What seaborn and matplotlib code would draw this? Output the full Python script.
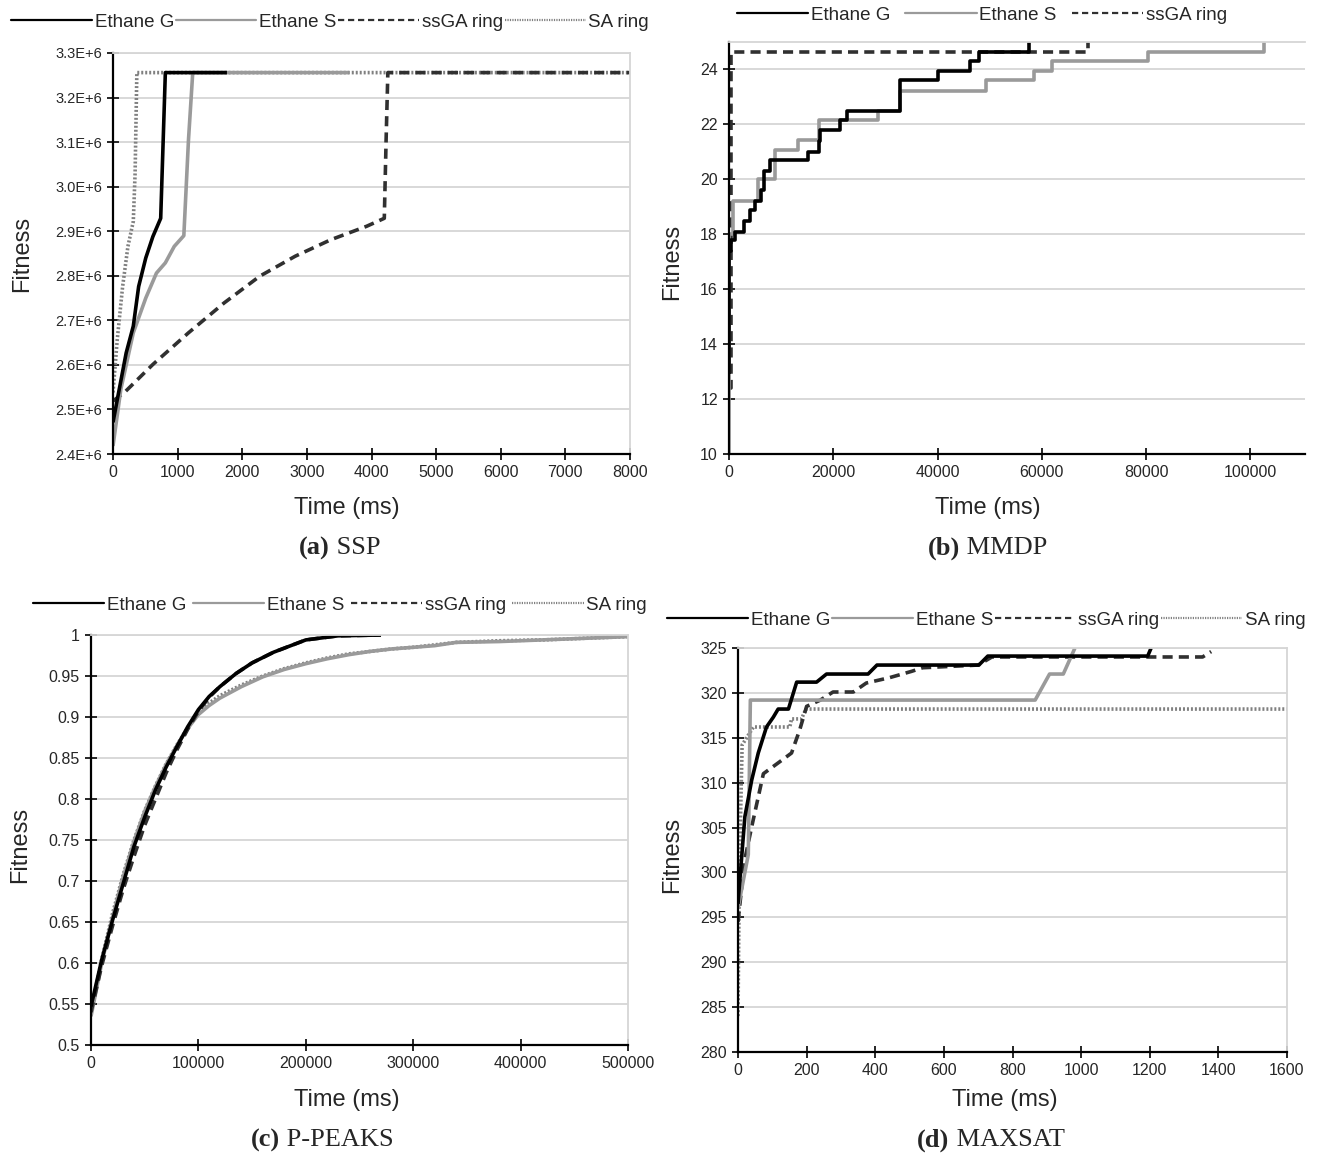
import matplotlib
matplotlib.use("Agg")
import matplotlib.pyplot as plt
from matplotlib.lines import Line2D
import seaborn as sns

sns.set_style("ticks")
plt.rcParams["font.family"] = ["Liberation Sans", "DejaVu Sans"]

# ---------------- data ----------------
names = ["Ethane G", "Ethane S", "ssGA ring", "SA ring"]

# (a) SSP
ssp_g_t = [0, 66, 204, 314, 397, 507, 617, 738, 810, 1763]
ssp_g_v = [2.471e6, 2.522e6, 2.627e6, 2.687e6, 2.776e6, 2.840e6, 2.888e6, 2.929e6, 3.256e6, 3.256e6]
ssp_s_t = [0, 121, 314, 507, 672, 810, 948, 1096, 1168, 1234, 3647]
ssp_s_v = [2.418e6, 2.545e6, 2.672e6, 2.750e6, 2.806e6, 2.829e6, 2.866e6, 2.890e6, 3.105e6, 3.256e6, 3.256e6]
ssp_ga_t = [0, 176, 617, 1168, 1719, 2270, 2821, 3372, 3923, 4198, 4226, 4253, 8000]
ssp_ga_v = [2.519e6, 2.538e6, 2.601e6, 2.672e6, 2.739e6, 2.799e6, 2.844e6, 2.881e6, 2.911e6, 2.929e6,
            3.105e6, 3.256e6, 3.256e6]
ssp_sa_t = [0, 66, 149, 231, 314, 342, 369, 8000]
ssp_sa_v = [2.538e6, 2.657e6, 2.776e6, 2.866e6, 2.922e6, 3.030e6, 3.256e6, 3.256e6]
ssp_yticks = [2.4e6, 2.5e6, 2.6e6, 2.7e6, 2.8e6, 2.9e6, 3.0e6, 3.1e6, 3.2e6, 3.3e6]
ssp_ylabels = ["2.4E+6", "2.5E+6", "2.6E+6", "2.7E+6", "2.8E+6", "2.9E+6", "3.0E+6", "3.1E+6", "3.2E+6", "3.3E+6"]
ssp_xticks = [0, 1000, 2000, 3000, 4000, 5000, 6000, 7000, 8000]

# (b) MMDP (step changes)
mmdp_g_t = [0, 0, 420, 1130, 2890, 3940, 5000, 6060, 6620, 7820, 15070, 17180, 17460, 21200, 22600,
            32800, 40000, 46200, 47950, 57460]
mmdp_g_v = [12.9, 17.4, 17.8, 18.1, 18.5, 18.9, 19.2, 19.6, 20.3, 20.7, 21.0, 21.4, 21.8, 22.15, 22.5,
            23.6, 23.95, 24.3, 24.65, 25.0]
mmdp_s_t = [0, 0, 775, 5600, 8800, 13240, 17320, 28600, 32800, 49370, 58520, 62040, 80350, 102540]
mmdp_s_v = [10.0, 18.0, 19.2, 20.0, 21.05, 21.45, 22.15, 22.5, 23.2, 23.6, 23.95, 24.3, 24.65, 25.0]
mmdp_ga_t = [0, 300, 68800]
mmdp_ga_v = [12.4, 24.65, 25.0]
mmdp_yticks = [10, 12, 14, 16, 18, 20, 22, 24]
mmdp_xticks = [0, 20000, 40000, 60000, 80000, 100000]

# (c) P-PEAKS
pp_g_t = [0, 10000, 20000, 30000, 40000, 50000, 60000, 70000, 80000, 90000, 100000, 110000, 120000,
          135000, 150000, 170000, 200000, 230000, 270000]
pp_g_v = [0.547, 0.604, 0.652, 0.697, 0.742, 0.778, 0.811, 0.839, 0.864, 0.888, 0.909, 0.925, 0.937,
          0.953, 0.966, 0.979, 0.994, 0.999, 1.0]
pp_ga_t = pp_g_t
pp_ga_v = [0.540, 0.597, 0.645, 0.690, 0.730, 0.768, 0.800, 0.832, 0.860, 0.885, 0.907, 0.924, 0.937,
           0.953, 0.966, 0.979, 0.994, 0.999, 1.0]
pp_s_t = [0, 10000, 20000, 30000, 40000, 50000, 60000, 70000, 80000, 90000, 100000, 110000, 120000,
          140000, 160000, 180000, 200000, 220000, 240000, 260000, 280000, 300000, 320000, 340000,
          380000, 420000, 460000, 500000]
pp_s_v = [0.535, 0.600, 0.655, 0.705, 0.748, 0.785, 0.815, 0.842, 0.865, 0.886, 0.903, 0.914, 0.923,
          0.937, 0.949, 0.958, 0.965, 0.971, 0.976, 0.980, 0.983, 0.985, 0.987, 0.991, 0.992, 0.994,
          0.996, 0.998]
pp_sa_t = pp_s_t
pp_sa_v = [0.540, 0.605, 0.660, 0.708, 0.750, 0.786, 0.816, 0.843, 0.866, 0.887, 0.905, 0.917, 0.926,
           0.939, 0.950, 0.959, 0.966, 0.972, 0.977, 0.980, 0.983, 0.985, 0.988, 0.991, 0.993, 0.994,
           0.996, 0.998]
pp_yticks = [0.5, 0.55, 0.6, 0.65, 0.7, 0.75, 0.8, 0.85, 0.9, 0.95, 1.0]
pp_ylabels = ["0.5", "0.55", "0.6", "0.65", "0.7", "0.75", "0.8", "0.85", "0.9", "0.95", "1"]
pp_xticks = [0, 100000, 200000, 300000, 400000, 500000]

# (d) MAXSAT
ms_g_t = [0, 3, 20, 40, 59, 83, 103, 117, 147, 171, 229, 258, 379, 405, 702, 728, 1194, 1204]
ms_g_v = [296.5, 298, 306.2, 310.3, 313.3, 316.2, 317.3, 318.2, 318.2, 321.2, 321.2, 322.1, 322.1,
          323.1, 323.1, 324.1, 324.1, 325.0]
ms_s_t = [0, 30, 36, 866, 908, 948, 982]
ms_s_v = [296, 302, 319.2, 319.2, 322.1, 322.1, 325.0]
ms_ga_t = [0, 19, 40, 74, 117, 156, 180, 200, 240, 277, 336, 374, 442, 506, 538, 700, 740, 1354, 1379]
ms_ga_v = [294.5, 301.3, 305.1, 311.0, 312.2, 313.3, 315.9, 318.5, 319.2, 320.1, 320.1, 321.1, 321.7,
           322.4, 322.8, 323.1, 324.0, 324.0, 324.6]
ms_sa_t = [0, 4, 12, 45, 151, 156, 185, 198, 1600]
ms_sa_v = [284, 300, 314.2, 316.2, 316.2, 317.1, 317.1, 318.2, 318.2]
ms_yticks = [280, 285, 290, 295, 300, 305, 310, 315, 320, 325]
ms_xticks = [0, 200, 400, 600, 800, 1000, 1200, 1400, 1600]

# ---------------- styles ----------------
styles = {
    "Ethane G": dict(color="black", linestyle="-"),
    "Ethane S": dict(color="#9a9a9a", linestyle="-"),
    "ssGA ring": dict(color="#303030", linestyle=(0, (2.8, 1.7))),
    "SA ring": dict(color="#808080", linestyle=(0, (0.55, 0.55))),
}

fig = plt.figure(figsize=(13.17, 11.58), dpi=100)


def add_axes(px_left, px_top, px_right, px_bottom):
    W, H = 1317, 1158
    return fig.add_axes([px_left / W, 1 - px_bottom / H, (px_right - px_left) / W, (px_bottom - px_top) / H])


def draw(ax, series, drawstyle="default"):
    for name, t, v in series:
        st = styles[name]
        sns.lineplot(x=t, y=v, ax=ax, color=st["color"], linestyle=st["linestyle"], lw=2.6,
                     estimator=None, sort=False, drawstyle=drawstyle, solid_capstyle="butt")


def style_axes(ax, xlim, ylim, xticks, yticks, ylabels=None, right_edge=True):
    ax.set_xlim(*xlim)
    ax.set_ylim(*ylim)
    ax.set_xticks(xticks, [str(x) for x in xticks])
    ax.set_yticks(yticks, ylabels if ylabels else [str(y) for y in yticks])
    ax.yaxis.grid(True, color="#d6d6d6", lw=1.3)
    ax.set_axisbelow(True)
    for s in ["left", "bottom"]:
        ax.spines[s].set_color("black")
        ax.spines[s].set_linewidth(1.6)
    ax.spines["top"].set_color("#d6d6d6")
    ax.spines["top"].set_linewidth(1.3)
    ax.spines["right"].set_visible(right_edge)
    ax.spines["right"].set_color("#d6d6d6")
    ax.spines["right"].set_linewidth(1.3)
    ax.tick_params(direction="inout", length=8, width=1.4, labelsize=11.5, pad=4)
    ax.set_xlabel("Time (ms)", fontsize=17)
    ax.set_ylabel("Fitness", fontsize=17)
    ax.xaxis.label.set_va("center")
    ax.yaxis.label.set_va("center")


def legend(labels, x, y, colsp, hl=4.3):
    handles = [Line2D([], [], lw=1.6, **styles[n]) for n in labels]
    fig.legend(handles, labels, loc="center", bbox_to_anchor=(x, y), ncol=len(labels), frameon=False,
               handlelength=hl, handletextpad=0.15, columnspacing=colsp, fontsize=13.5)


def panel_title(cx, y, tag, name):
    a = fig.text(cx, y, tag, family="Liberation Serif", weight="bold", fontsize=19, ha="right", va="center")
    b = fig.text(cx, y, " " + name, family="Liberation Serif", fontsize=19, ha="left", va="center")
    r = fig.canvas.get_renderer()
    wa = a.get_window_extent(r).width / 1317
    wb = b.get_window_extent(r).width / 1317
    shift = (wa - wb) / 2
    a.set_x(cx + shift)
    b.set_x(cx + shift)


# (a) SSP
ax = add_axes(113, 53, 630, 454)
draw(ax, [("SA ring", ssp_sa_t, ssp_sa_v), ("ssGA ring", ssp_ga_t, ssp_ga_v),
          ("Ethane S", ssp_s_t, ssp_s_v), ("Ethane G", ssp_g_t, ssp_g_v)])
style_axes(ax, (0, 8000), (2.4e6, 3.3e6), ssp_xticks, ssp_yticks, ssp_ylabels)
ax.tick_params(axis="y", labelsize=10.5)
ax.xaxis.set_label_coords(0.453, -0.135)
ax.yaxis.set_label_coords(-0.176, 0.5)

# (b) MMDP
ax = add_axes(729, 42, 1305, 454)
draw(ax, [("ssGA ring", mmdp_ga_t, mmdp_ga_v), ("Ethane S", mmdp_s_t, mmdp_s_v),
          ("Ethane G", mmdp_g_t, mmdp_g_v)], drawstyle="steps-post")
style_axes(ax, (0, 110500), (10, 25), mmdp_xticks, mmdp_yticks, right_edge=False)
ax.xaxis.set_label_coords(0.450, -0.131)
ax.yaxis.set_label_coords(-0.099, 0.466)

# (c) P-PEAKS
ax = add_axes(91, 635, 628, 1045)
draw(ax, [("SA ring", pp_sa_t, pp_sa_v), ("Ethane S", pp_s_t, pp_s_v),
          ("ssGA ring", pp_ga_t, pp_ga_v), ("Ethane G", pp_g_t, pp_g_v)])
style_axes(ax, (0, 500000), (0.5, 1.0), pp_xticks, pp_yticks, pp_ylabels)
ax.xaxis.set_label_coords(0.477, -0.134)
ax.yaxis.set_label_coords(-0.132, 0.488)

# (d) MAXSAT
ax = add_axes(738, 648, 1287, 1052)
draw(ax, [("SA ring", ms_sa_t, ms_sa_v), ("ssGA ring", ms_ga_t, ms_ga_v),
          ("Ethane S", ms_s_t, ms_s_v), ("Ethane G", ms_g_t, ms_g_v)])
style_axes(ax, (0, 1600), (280, 325), ms_xticks, ms_yticks)
ax.xaxis.set_label_coords(0.486, -0.119)
ax.yaxis.set_label_coords(-0.12, 0.488)

legend(names, 0.2506, 0.981, 0.1)
legend(names[:3], 0.7456, 0.987, 0.8, hl=3.8)
legend(names, 0.258, 0.4775, 0.35, hl=3.8)
legend(names, 0.749, 0.4646, 0.1)

panel_title(340 / 1317, 1 - 548 / 1158, "(a)", "SSP")
panel_title(988 / 1317, 1 - 548 / 1158, "(b)", "MMDP")
panel_title(322 / 1317, 1 - 1140 / 1158, "(c)", "P-PEAKS")
panel_title(991 / 1317, 1 - 1140 / 1158, "(d)", "MAXSAT")

fig.savefig("out.png", dpi=100)
